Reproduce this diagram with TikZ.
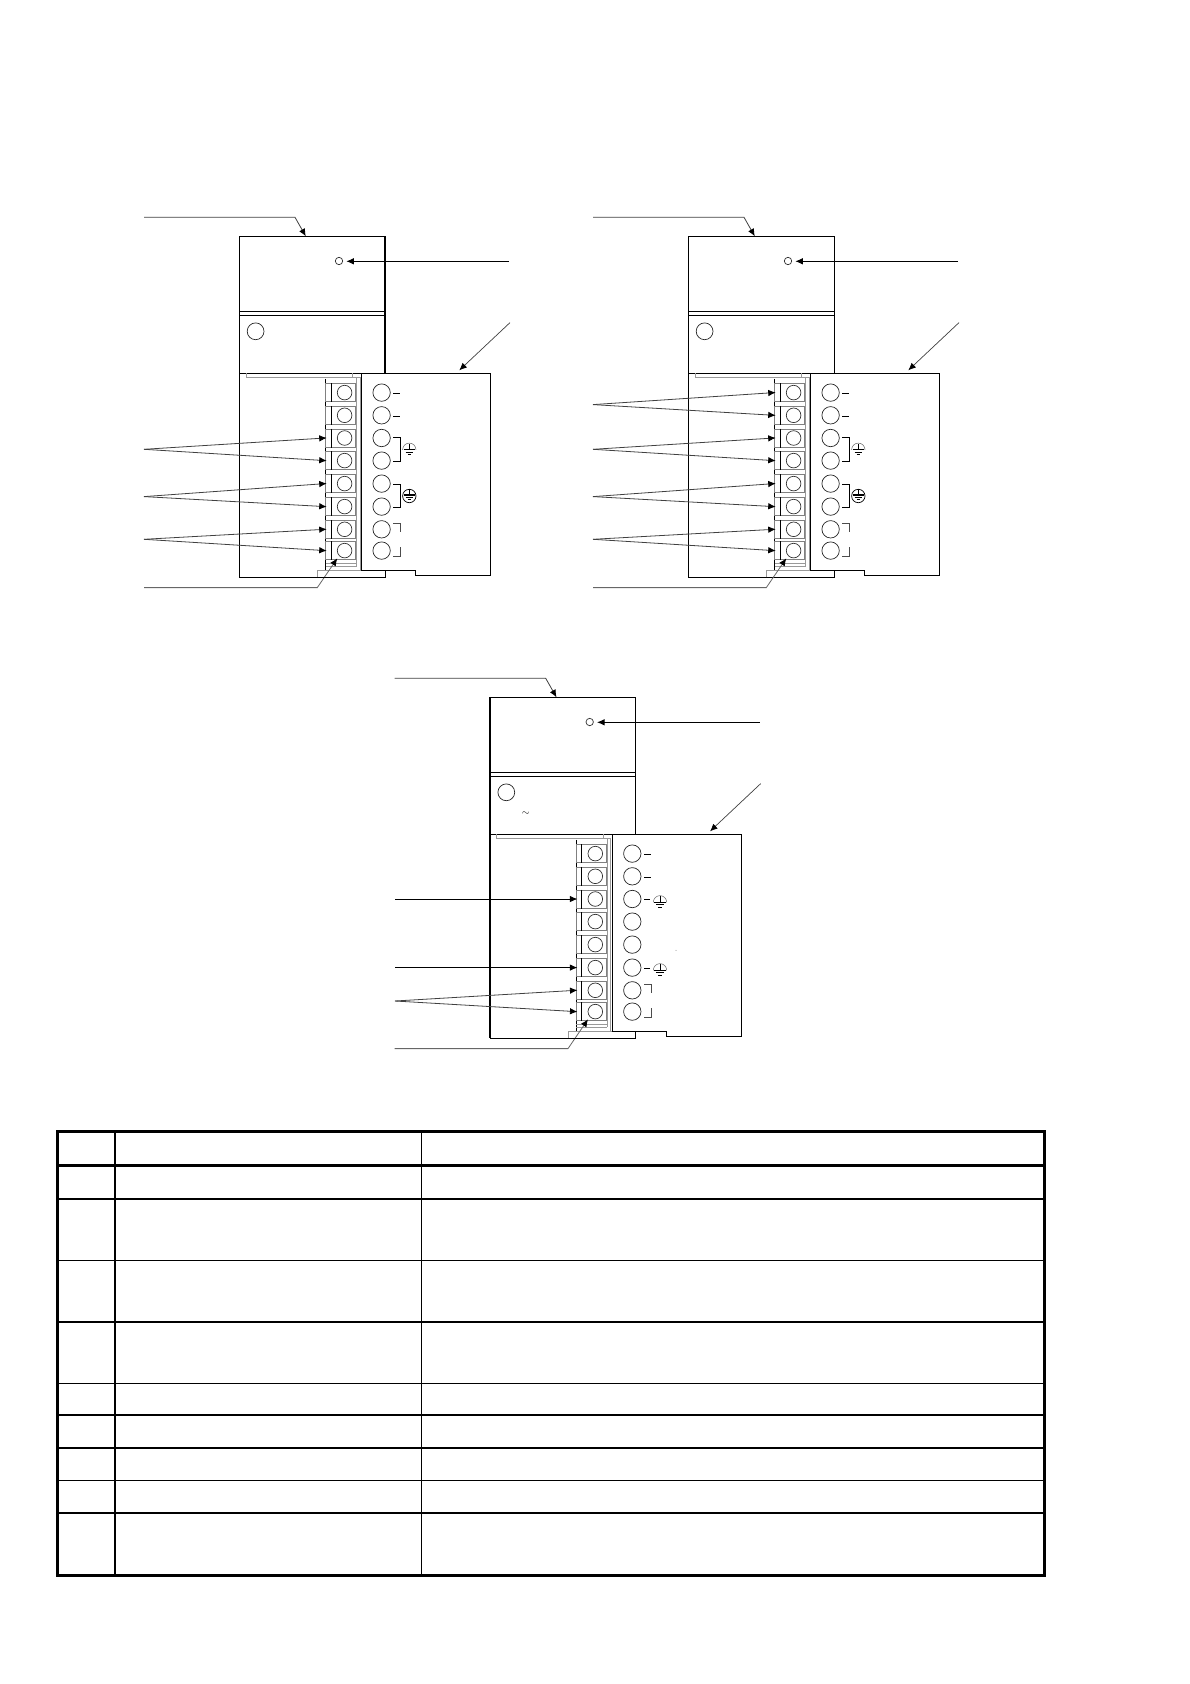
\documentclass[tikz,border=0pt]{standalone}
\usetikzlibrary{arrows.meta}

\tikzset{
ink/.style={draw=black,line width=0.9pt},
heavy/.style={draw=black,line width=1.7pt},
faint/.style={draw=black!40,line width=0.7pt},
lead/.style={draw=black!75,line width=0.8pt,-{Latex[length=7.5pt,width=6.5pt,color=black]}},
termlead/.style={lead,shorten >=-1.5pt},
termbox/.style={rectangle,draw=black!50,line width=0.7pt,minimum width=30pt,minimum height=18.3pt,inner sep=0pt},
screw/.style={circle,draw=black!80,line width=0.7pt,minimum size=14.6pt,inner sep=0pt},
post/.style={circle,draw=black!85,line width=0.7pt,minimum size=17.4pt,inner sep=0pt},
gnd/.pic={
    \draw[ink] (0,-6) -- (0,0);
    \draw[ink,line width=1.1pt] (-5.7,0) -- (5.7,0);
    \draw[ink,line width=0.7pt] (-3.7,2.4) -- (3.7,2.4);
    \draw[ink,line width=0.7pt] (-1.7,4.6) -- (1.7,4.6);
},
gndarc/.style={draw=black!60,line width=0.5pt}
}

% one unit, drawn from the top left corner of its case
\newcommand{\drawunit}[3]{
\begin{scope}[shift={(#2,#3)},name prefix=#1-]
\coordinate (nw) at (0,0);
\coordinate (ne) at (145.7,0);
\coordinate (nm) at (145.7,137);
\coordinate (sm) at (145.7,333.7);
\coordinate (sw) at (0,341);
\coordinate (se) at (145.7,341);
\draw[ink] (nm) -- (ne) -- (nw) -- (sw) -- (se) -- (sm);
\draw[ink] (0,75) -- (145.7,75);
\draw[ink] (1,79) -- (145.7,79);
\node[circle,draw=black!80,line width=0.7pt,minimum size=7.4pt,inner sep=0pt] (led) at (99.7,24.7) {};
\node[circle,draw=black!85,line width=0.7pt,minimum size=16.8pt,inner sep=0pt] (dial) at (16.3,95) {};
% lower part
\draw[ink] (0,137) -- (122,137);
\draw[faint] (6.7,137) -- (6.7,141.5) -- (113.3,141.5) -- (113.3,137);
\draw[ink] (122,137) -- (251,137) -- (251,339) -- (176,339) -- (176,333.7) -- (122,333.7) -- cycle;
\draw[faint] (78,341) -- (78,333.7) -- (122,333.7);
\draw[ink,line width=1.2pt] (86.3,142.5) -- (86.3,333.7);
\draw[faint] (86.3,141.5) -- (120.7,141.5) -- (120.7,333.7);
\draw[faint] (117.3,141.5) -- (117.3,330);
\draw[faint] (86.3,327.5) -- (117.3,327.5);
\draw[faint] (86.3,330) -- (117.3,330);
\foreach \i/\yy in {1/156.3,2/179,3/201.7,4/224.3,5/247.3,6/270.3,7/293,8/314.3} {
    \node[termbox] (tb\i) at (101.3,\yy) {};
    \draw[ink] ([xshift=5.7pt]tb\i.north west) -- ([xshift=5.7pt]tb\i.south west);
    \node[screw] (sc\i) at (105.3,\yy) {};
    \node[post] (po\i) at (142.3,\yy) {};
}
\draw[ink] (154,157) -- (160.7,157);
\draw[ink] (154,180) -- (160.7,180);
\draw[faint,draw=black!70] (154,287) -- (161,287) -- (161,295.3);
\draw[faint,draw=black!70] (154,319.7) -- (161,319.7) -- (161,311);
% leaders every unit has
\coordinate (topa) at (-95.3,-19);
\coordinate (topb) at (55.7,-19);
\coordinate (topc) at (66.5,0);
\coordinate (ledin) at (269.7,25);
\coordinate (ledend) at (107,25);
\coordinate (covin) at (270.7,86.3);
\coordinate (covend) at (220,134);
\coordinate (bota) at (-95.3,351.3);
\coordinate (botb) at (78,351.3);
\coordinate (botc) at (98,322);
\draw[lead] (topa) -- (topb) -- (topc);
\draw[lead,draw=black,line width=0.9pt] (ledin) -- (ledend);
\draw[lead,line width=0.7pt] (covin) -- (covend);
\draw[lead,draw=black!60] (bota) -- (botb) -- (botc);
\end{scope}
}

% brackets and earth marks of the two upper units
\newcommand{\drawmarks}[3]{
\begin{scope}[shift={(#2,#3)},name prefix=#1-]
\draw[ink] (154,201) -- (161,201) -- (161,225) -- (154,225);
\draw[ink] (154,248) -- (161,248) -- (161,271) -- (154,271);
\pic (ea) at (170,213.5) {gnd};
\draw[gndarc] (163.3,213.5) arc[start angle=180,end angle=360,radius=6.7];
\pic (eb) at (170,258.7) {gnd};
\node[circle,draw=black,line width=0.7pt,minimum size=13.4pt,inner sep=0pt] (ring) at (170,259.7) {};
\end{scope}
}

\begin{document}
\begin{tikzpicture}[x=1pt,y=-1pt]
\useasboundingbox (0,0) rectangle (1190,1684);

\drawunit{m1}{239.3}{236.3}
\drawmarks{m1}{239.3}{236.3}
\drawunit{m2}{688.3}{236.3}
\drawmarks{m2}{688.3}{236.3}
\drawunit{m3}{490}{697.3}

\draw[heavy] (m1-ne) -- (m1-nm);
\draw[heavy] (m3-nw) -- (m3-sw);
\draw[heavy,line width=1.3pt] (m3-sw) -- (m3-se);
\draw[heavy,line width=1.3pt] (m1-sw) -- (m1-se);

% third unit, its own marks
\begin{scope}[shift={(490,697.3)},name prefix=m3-]
\draw[ink] (154,202.5) -- (160,202.5);
\draw[ink] (154,271) -- (160,271);
\pic (ea) at (170,205) {gnd};
\draw[gndarc] (163.3,205) arc[start angle=180,end angle=360,radius=6.7];
\pic (eb) at (170,273) {gnd};
\draw[gndarc] (163.3,273) arc[start angle=180,end angle=360,radius=6.7];
\node[inner sep=0pt,font=\normalsize] (wave) at (35.7,116) {$\sim$};
\fill[black!50] (186,253) circle[radius=0.5];
\end{scope}

% free ends on the left
\coordinate (m1-fa) at (144,449.3);
\coordinate (m1-fb) at (144,496.6);
\coordinate (m1-fc) at (144,539.3);
\coordinate (m2-fz) at (593,404.6);
\coordinate (m2-fa) at (593,449.3);
\coordinate (m2-fb) at (593,496.6);
\coordinate (m2-fc) at (593,539.3);
\coordinate (m3-fa) at (395,899);
\coordinate (m3-fb) at (395,967.6);
\coordinate (m3-fc) at (395,1001);

\foreach \u/\f/\p/\q in {m1/fa/3/4,m1/fb/5/6,m1/fc/7/8,m2/fz/1/2,m2/fa/3/4,m2/fb/5/6,m2/fc/7/8,m3/fc/7/8} {
    \draw[termlead] (\u-\f) -- (\u-tb\p.west);
    \draw[termlead] (\u-\f) -- (\u-tb\q.west);
}
\draw[termlead,draw=black,line width=0.9pt] (m3-fa) -- (m3-tb3.west);
\draw[termlead,draw=black,line width=0.9pt] (m3-fb) -- (m3-tb6.west);

% table
\coordinate (tl) at (57.3,1131.3);
\coordinate (tr) at (1044.3,1131.3);
\coordinate (bl) at (57.3,1575.3);
\coordinate (br) at (1044.3,1575.3);
\foreach \yy/\w in {1165/3,1198.7/2.4,1260.3/1.2,1322/2.2,1383.3/1.2,1415/1.2,1447.7/2.2,1480.3/1.2,1513/2.2} {
    \draw[draw=black,line width=\w pt] (57.3,\yy) -- (1044.3,\yy);
}
\draw[draw=black,line width=1.8pt] (115,1131.3) -- (115,1575.3);
\draw[draw=black,line width=1.3pt] (421.3,1131.3) -- (421.3,1575.3);
\draw[draw=black,line width=3pt] (tl) -- (tr) -- (br) -- (bl) -- cycle;
\end{tikzpicture}
\end{document}
